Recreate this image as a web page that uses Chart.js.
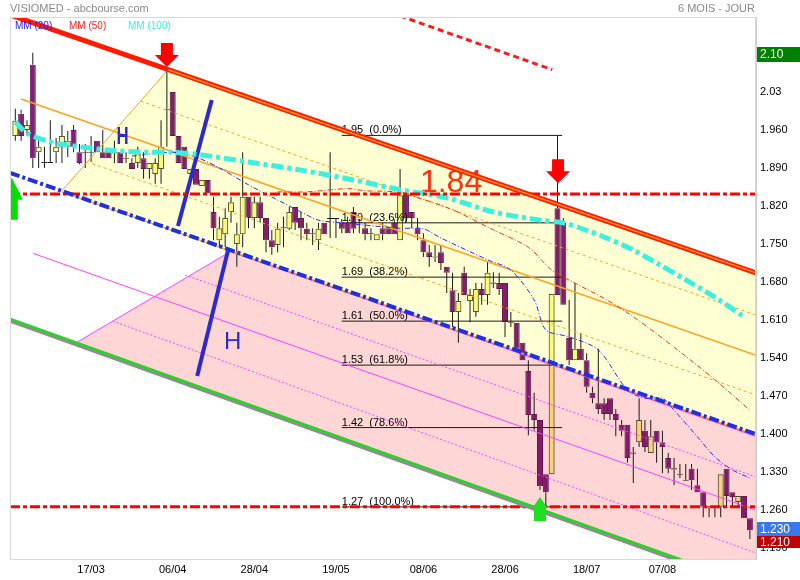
<!DOCTYPE html>
<html>
<head>
<meta charset="utf-8">
<script src="https://cdn.jsdelivr.net/npm/chart.js@4.4.1/dist/chart.umd.min.js"></script>
<style>
  html, body { margin: 0; padding: 0; background: #fff; }
  canvas { display: block; }
</style>
</head>
<body>
<canvas id="chart" width="800" height="580"></canvas>
<script>
// x axis: one slot per trading day, labels on a few of them
const dateLabels = ['17/03', '06/04', '28/04', '19/05', '08/06', '28/06', '18/07', '07/08'];
const dateIndex = [13, 27, 41, 55, 70, 84, 98, 111];
const yTicks = [1.19, 1.26, 1.33, 1.40, 1.47, 1.54, 1.61, 1.68, 1.75, 1.82, 1.89, 1.96, 2.03];
const yTickLabels = ['1.190', '1.260', '1.330', '1.400', '1.470', '1.540', '1.610', '1.680', '1.750', '1.820', '1.890', '1.960', '2.03'];

// daily candles
const open = [
  1.949,1.990,1.960,2.080,1.919,1.899,1.901,1.919,1.929,1.929,
  1.960,1.919,1.920,1.918,1.940,1.919,1.919,1.920,1.919,1.909,
  1.899,1.899,1.908,1.888,1.879,1.888,1.997,2.030,1.949,1.929,
  1.879,1.888,1.857,1.868,1.809,1.757,1.768,1.809,1.750,1.768,
  1.837,1.798,1.827,1.798,1.757,1.748,1.779,1.778,1.818,1.798,
  1.778,1.770,1.757,1.789,1.796,1.798,1.789,1.789,1.809,1.790,
  1.779,1.768,1.757,1.779,1.779,1.789,1.757,1.844,1.809,1.779,
  1.757,1.735,1.727,1.735,1.708,1.665,1.625,1.697,1.645,1.625,
  1.667,1.656,1.679,1.678,1.678,1.607,1.605,1.568,1.516,1.437,
  1.426,1.326,1.326,1.816,1.789,1.577,1.536,1.557,1.536,1.476,
  1.457,1.457,1.466,1.437,1.417,1.417,1.366,1.385,1.406,1.365,
  1.406,1.385,1.356,1.337,1.327,1.316,1.336,1.306,1.293,1.267,
  1.267,1.266,1.336,1.293,1.275,1.286,1.245];
const high = [
  1.999,1.997,1.978,2.102,1.943,1.929,1.978,1.945,1.969,1.958,
  1.969,1.934,1.934,1.949,1.940,1.960,1.919,1.940,1.919,1.919,
  1.908,1.929,1.919,1.899,1.908,1.978,2.071,2.030,1.949,1.929,
  1.888,1.888,1.868,1.868,1.837,1.800,1.816,1.837,1.789,1.919,
  1.837,1.837,1.837,1.798,1.776,1.789,1.800,1.818,1.818,1.809,
  1.789,1.779,1.789,1.789,1.919,1.798,1.796,1.800,1.818,1.796,
  1.789,1.779,1.768,1.789,1.779,1.796,1.888,1.844,1.809,1.798,
  1.770,1.748,1.748,1.748,1.708,1.697,1.660,1.708,1.667,1.678,
  1.678,1.717,1.698,1.697,1.678,1.625,1.605,1.568,1.536,1.476,
  1.426,1.326,1.658,1.950,1.798,1.647,1.678,1.586,1.549,1.487,
  1.557,1.466,1.466,1.446,1.426,1.417,1.376,1.466,1.426,1.426,
  1.406,1.406,1.365,1.356,1.345,1.345,1.345,1.336,1.293,1.267,
  1.267,1.326,1.336,1.293,1.286,1.286,1.245];
const low = [
  1.940,1.940,1.951,1.890,1.890,1.890,1.899,1.899,1.899,1.910,
  1.919,1.897,1.890,1.901,1.919,1.908,1.908,1.899,1.899,1.899,
  1.888,1.890,1.870,1.870,1.861,1.861,1.929,1.949,1.899,1.888,
  1.879,1.859,1.857,1.843,1.757,1.744,1.744,1.789,1.708,1.744,
  1.779,1.779,1.789,1.735,1.730,1.735,1.744,1.776,1.776,1.757,
  1.757,1.748,1.739,1.768,1.761,1.761,1.770,1.770,1.770,1.770,
  1.757,1.757,1.757,1.757,1.768,1.768,1.757,1.789,1.779,1.757,
  1.726,1.708,1.717,1.702,1.660,1.597,1.568,1.656,1.606,1.616,
  1.638,1.638,1.669,1.656,1.579,1.597,1.557,1.536,1.398,1.407,
  1.297,1.266,1.326,1.656,1.638,1.527,1.536,1.536,1.476,1.457,
  1.437,1.426,1.426,1.396,1.396,1.347,1.310,1.376,1.367,1.365,
  1.347,1.328,1.328,1.306,1.319,1.314,1.297,1.293,1.247,1.247,
  1.247,1.247,1.266,1.266,1.266,1.245,1.207];
const close = [
  1.977,1.949,1.969,1.908,1.929,1.901,1.899,1.929,1.949,1.940,
  1.929,1.899,1.918,1.920,1.919,1.908,1.908,1.918,1.899,1.907,
  1.888,1.917,1.888,1.899,1.899,1.929,1.999,1.949,1.899,1.888,
  1.888,1.859,1.868,1.843,1.779,1.779,1.798,1.827,1.768,1.837,
  1.798,1.827,1.798,1.757,1.744,1.778,1.781,1.809,1.789,1.779,
  1.768,1.768,1.778,1.768,1.798,1.796,1.778,1.770,1.778,1.788,
  1.768,1.770,1.768,1.768,1.768,1.768,1.840,1.798,1.798,1.768,
  1.735,1.726,1.725,1.715,1.697,1.625,1.645,1.656,1.656,1.667,
  1.656,1.697,1.677,1.667,1.606,1.605,1.557,1.536,1.435,1.426,
  1.304,1.293,1.658,1.656,1.638,1.536,1.557,1.536,1.487,1.466,
  1.446,1.437,1.437,1.426,1.406,1.356,1.364,1.426,1.376,1.396,
  1.385,1.376,1.336,1.335,1.325,1.314,1.315,1.293,1.266,1.265,
  1.265,1.326,1.286,1.284,1.286,1.245,1.223];

// moving averages (day index / value)
const mm20Day = [20,27,31,35,40,45,49,52,56,66,70,73,81,85,89,91,95,100,105,108,111,113,117,120,123,126];
const mm20 = [1.912,1.919,1.910,1.890,1.859,1.831,1.809,1.794,1.789,1.779,1.778,1.761,1.721,1.702,1.647,1.592,1.579,1.555,1.481,1.466,1.466,1.444,1.395,1.358,1.334,1.319];
const mm50Day = [45,50,57,60,65,70,75,82,88,92,96,101,106,113,120,126];
const mm50 = [1.846,1.846,1.852,1.848,1.846,1.832,1.813,1.776,1.744,1.702,1.678,1.650,1.616,1.560,1.500,1.444];
const mm100Day = [0,2,6,9,16,22,27,32,40,49,58,66,74,82,90,94,97,101,106,110,115,120,125];
const mm100 = [1.975,1.954,1.938,1.932,1.923,1.919,1.919,1.914,1.901,1.886,1.868,1.850,1.835,1.809,1.794,1.789,1.779,1.763,1.739,1.715,1.684,1.652,1.616];

// drawn tools: end points as [day, price]
const channelTop = [[-0.91, 2.172], [127.05, 1.697]];
const channelTopFromPeak = [[26.2, 2.071], [127.05, 1.697]];
const channelMid = [[-0.91, 1.881], [127.05, 1.400]];
const channelLow = [[-0.91, 1.610], [127.05, 1.117]];
const forkEdge = [[8.0, 1.848], [26.2, 2.071]];
const forkMedian = [[1.0, 2.017], [127.05, 1.545]];
const forkUpper = [[21.5, 2.013], [127.05, 1.619]];
const forkLower = [[13.2, 1.898], [127.05, 1.472]];
const forkBase = [[8.0, 1.846], [127.05, 1.398]];
const pinkEdge = [[10.25, 1.567], [37.2, 1.738]];
const pinkTop = [[37.2, 1.735], [127.05, 1.396]];
const pinkMedian = [[3.0, 1.733], [127.05, 1.260]];
const pinkUpper = [[29.1, 1.693], [127.05, 1.321]];
const pinkLower = [[16.7, 1.608], [127.05, 1.181]];
const redDotted = [[66.0, 2.170], [92.1, 2.071]];
const resistance = [[-0.91, 1.842], [127.05, 1.842]];
const support = [[-0.91, 1.266], [127.05, 1.266]];
const strokeA = [[27.9, 1.783], [33.7, 2.015]];
const strokeB = [[31.2, 1.507], [36.5, 1.739]];
const yellowZone = [[8.0, 1.848], [26.2, 2.071], [127.05, 1.697], [127.05, 1.400]];
const pinkZone = [[10.25, 1.567], [37.2, 1.738], [127.05, 1.400], [127.05, 1.117]];

// fibonacci retracement 1.95 -> 1.266
const fibLevels = [1.95, 1.789, 1.689, 1.608, 1.527, 1.412, 1.266];
const fibLabels = ['1.95  (0.0%)', '1.79  (23.6%)', '1.69  (38.2%)', '1.61  (50.0%)', '1.53  (61.8%)', '1.42  (78.6%)', '1.27  (100.0%)'];
const fibStart = 56.0, fibEnd = 93.8;

// arrows: tip position
const arrowDay = [26.0, 93.1, 90.0, -0.6];
const arrowPrice = [2.076, 1.862, 1.284, 1.872];
const arrowDir = ['down', 'down', 'up', 'up'];

const noteText = ['H', 'H', '1.84'];
const noteDay = [18.4, 37.3, 69.4];
const noteY = [1.946, 1.568, 1.846];

const lastQuote = 1.230, lastLow = 1.210, topQuote = 2.10;

const pts = arr => arr.map(p => ({x: p[0], y: p[1]}));
const days = open.map((_, i) => i);

function seg(points, color, width, dash, order) {
  return { type: 'line', data: pts(points), borderColor: color, borderWidth: width, borderDash: dash || [],
    pointRadius: 0, fill: false, tension: 0, order: order, clip: 0 };
}
function avg(dx, vals, color, width, dash) {
  return { type: 'line', data: dx.map((d, i) => ({x: d, y: vals[i]})), borderColor: color, borderWidth: width,
    borderDash: dash, pointRadius: 0, fill: false, tension: 0.3, order: 6, clip: 0 };
}
function wick(data) {
  return { type: 'bar', data, backgroundColor: '#1a1a1a', inflateAmount: 0, grouped: false,
    barThickness: 1, maxBarThickness: 1, barPercentage: 1, categoryPercentage: 1, order: 25 };
}

const fibData = [];
fibLevels.forEach(v => { fibData.push({x: fibStart, y: v}, {x: fibEnd, y: v}, {x: fibEnd, y: null}); });

const isDoji = i => Math.abs(close[i] - open[i]) < 0.003;
const upCol = '#fafa90', downCol = '#80207a';

const datasets = [
  { type: 'line', data: pts(yellowZone), backgroundColor: '#ffffd4', borderWidth: 0, pointRadius: 0, fill: 'shape', order: 30 },
  { type: 'line', data: pts(pinkZone), backgroundColor: '#ffd6d6', borderWidth: 0, pointRadius: 0, fill: 'shape', order: 30 },
  // wicks above and below the body, so the body hides nothing when multiplied
  wick(days.map(i => ({x: i, y: [Math.max(open[i], close[i]), high[i]]}))),
  wick(days.map(i => ({x: i, y: [low[i], Math.min(open[i], close[i])]}))),
  { type: 'bar', data: days.map(i => ({x: i, y: [open[i], close[i]]})),
    backgroundColor: days.map(i => close[i] >= open[i] ? upCol : downCol),
    borderColor: days.map(i => isDoji(i) ? '#1a1a1a' : (close[i] >= open[i] ? '#55553a' : '#6a1464')),
    borderWidth: 1, borderSkipped: false, inflateAmount: 0, grouped: false, barThickness: 6, maxBarThickness: 6,
    barPercentage: 1, categoryPercentage: 1, order: 24 },
  seg(forkEdge, '#ffa020', 1, [], 8),
  seg(forkMedian, '#ffa020', 1.5, [], 8),
  seg(forkUpper, '#ffa020', 1, [3, 3], 8),
  seg(forkLower, '#ffa020', 1, [3, 3], 8),
  seg(forkBase, '#ffa020', 1.5, [], 8),
  seg(pinkEdge, '#ff40ff', 1, [], 8),
  seg(pinkTop, '#ff40ff', 1.5, [], 8),
  seg(pinkMedian, '#ff40ff', 1, [], 8),
  seg(pinkUpper, '#ff40ff', 1, [2, 2], 8),
  seg(pinkLower, '#ff40ff', 1, [2, 2], 8),
  seg(redDotted, '#ff1a1a', 3, [6, 4], 8),
  { type: 'line', data: fibData, borderColor: '#1a1a1a', borderWidth: 1, pointRadius: 0, fill: false, spanGaps: false, order: 8, clip: 0 },
  seg(strokeA, '#2a2ad0', 4, [], 7),
  seg(strokeB, '#2a2ad0', 4, [], 7),
  avg(mm100Day, mm100, '#3cf0e0', 5, [12, 4, 4, 4]),
  avg(mm50Day, mm50, '#ff2a10', 1, [5, 2, 1, 2]),
  avg(mm20Day, mm20, '#2a2aff', 1, [5, 2, 1, 2]),
  seg(resistance, '#ff0000', 3, [10, 3, 4, 3], 5),
  seg(support, '#ff0000', 3, [10, 3, 4, 3], 5),
  seg(channelLow, '#33cc33', 5, [], 4),
  seg([[channelLow[0][0], channelLow[0][1] - 0.003], [channelLow[1][0], channelLow[1][1] - 0.003]], '#ff40ff', 1, [], 3.5),
  seg(channelMid, '#2030e0', 4, [10, 3, 3, 3], 3),
  seg(channelTop, '#ff1a00', 5, [], 2),
  seg(channelTopFromPeak, '#ff9020', 1.5, [], 1)
];

function arrow(ctx, x, y, dir, hw, hh, sw, sh, color) {
  const s = dir === 'down' ? -1 : 1;
  ctx.fillStyle = color;
  ctx.beginPath();
  ctx.moveTo(x, y);
  ctx.lineTo(x + hw / 2, y + s * hh);
  ctx.lineTo(x + sw / 2, y + s * hh);
  ctx.lineTo(x + sw / 2, y + s * (hh + sh));
  ctx.lineTo(x - sw / 2, y + s * (hh + sh));
  ctx.lineTo(x - sw / 2, y + s * hh);
  ctx.lineTo(x - hw / 2, y + s * hh);
  ctx.closePath();
  ctx.fill();
}

const decor = {
  id: 'decor',
  beforeDatasetDraw(chart, args) {
    // candles are multiplied into the zone colours, like the original
    if (args.meta.type === 'bar') { chart.ctx.save(); chart.ctx.globalCompositeOperation = 'multiply'; }
  },
  afterDatasetDraw(chart, args) {
    const ctx = chart.ctx, xs = chart.scales.x, ys = chart.scales.y;
    if (args.meta.type === 'bar') ctx.restore();
    if (args.index !== 0) return;
    ctx.save();
    ctx.fillStyle = '#000';
    ctx.font = '11px Arial, "Liberation Sans"';
    ctx.textAlign = 'left';
    ctx.textBaseline = 'alphabetic';
    fibLevels.forEach((v, i) => ctx.fillText(fibLabels[i], xs.getPixelForValue(fibStart), ys.getPixelForValue(v) - 2));
    ctx.fillStyle = '#ff3311';
    ctx.font = '32px Arial, "Liberation Sans"';
    ctx.fillText(noteText[2], xs.getPixelForValue(noteDay[2]), ys.getPixelForValue(noteY[2]));
    ctx.restore();
  },
  afterDatasetsDraw(chart) {
    const ctx = chart.ctx, xs = chart.scales.x, ys = chart.scales.y, a = chart.chartArea;
    ctx.save();
    ctx.beginPath(); ctx.rect(a.left, a.top, a.right - a.left, a.bottom - a.top); ctx.clip();
    ctx.fillStyle = '#2a2ad0';
    ctx.textAlign = 'center';
    ctx.textBaseline = 'middle';
    ctx.save();
    ctx.translate(xs.getPixelForValue(noteDay[0]), ys.getPixelForValue(noteY[0]));
    ctx.scale(0.7, 1);
    ctx.font = 'bold 24px Arial, "Liberation Sans"';
    ctx.fillText(noteText[0], 0, 0);
    ctx.restore();
    ctx.font = '24px Arial, "Liberation Sans"';
    ctx.fillText(noteText[1], xs.getPixelForValue(noteDay[1]), ys.getPixelForValue(noteY[1]));
    arrowDay.forEach((d, i) => {
      const x = xs.getPixelForValue(d), y = ys.getPixelForValue(arrowPrice[i]);
      if (arrowDir[i] === 'down') arrow(ctx, x, y, 'down', 24, 12, 12, 12, '#ff0000');
      else if (i === 2) arrow(ctx, x, y, 'up', 15, 11, 12, 13, '#22dd22');
      else arrow(ctx, x, y, 'up', 22, 22, 12, 20, '#00e000');
    });
    ctx.restore();
  },
  afterDraw(chart) {
    const ctx = chart.ctx, ys = chart.scales.y, a = chart.chartArea;
    ctx.save();
    ctx.strokeStyle = '#d8d8d8';
    ctx.lineWidth = 1;
    ctx.strokeRect(a.left + 0.5, a.top + 0.5, a.right - a.left - 1, a.bottom - a.top);
    ctx.font = '11px Arial, "Liberation Sans"';
    ctx.textBaseline = 'middle';
    ctx.fillStyle = '#8a8a8a';
    ctx.textAlign = 'left';
    ctx.fillText('VISIOMED - abcbourse.com', 10, 9);
    ctx.textAlign = 'right';
    ctx.fillText('6 MOIS - JOUR', 755, 9);
    ctx.textAlign = 'left';
    ctx.font = '10px Arial, "Liberation Sans"';
    ctx.fillStyle = '#2222ee'; ctx.fillText('MM (20)', 15, 26);
    ctx.fillStyle = '#ff2222'; ctx.fillText('MM (50)', 69, 26);
    ctx.fillStyle = '#33eeee'; ctx.fillText('MM (100)', 128, 26);
    const boxes = [
      [Math.round(ys.getPixelForValue(topQuote)) - 7, 15, '#008000', topQuote.toFixed(2)],
      [Math.round(ys.getPixelForValue(lastQuote)) - 4, 14, '#3a78f0', lastQuote.toFixed(3)],
      [Math.round(ys.getPixelForValue(lastQuote)) + 10, 12, '#c00000', lastLow.toFixed(3)]
    ];
    ctx.font = '12px Arial, "Liberation Sans"';
    boxes.forEach(b => {
      ctx.fillStyle = b[2];
      ctx.fillRect(757, b[0], 43, b[1]);
      ctx.fillStyle = '#fff';
      ctx.fillText(b[3], 760, b[0] + b[1] / 2 + 0.5);
    });
    ctx.restore();
  }
};

new Chart(document.getElementById('chart'), {
  type: 'line',
  data: { datasets },
  options: {
    responsive: false,
    animation: false,
    events: [],
    layout: { padding: { left: 10, top: 17, right: 0, bottom: 0 } },
    plugins: { legend: { display: false }, tooltip: { enabled: false } },
    scales: {
      x: {
        type: 'linear', min: -0.91, max: 127.05, offset: false,
        grid: { display: false, drawTicks: false },
        border: { display: true, color: '#d8d8d8' },
        afterBuildTicks: s => { s.ticks = dateIndex.map(v => ({ value: v })); },
        afterFit: s => { s.height = 21; },
        ticks: { autoSkip: false, maxRotation: 0, padding: 4, color: '#000',
          font: { family: 'Arial, "Liberation Sans"', size: 11 },
          callback: (v, i) => dateLabels[i] }
      },
      y: {
        type: 'linear', position: 'right', min: 1.170, max: 2.168,
        grid: { display: false, drawTicks: false },
        border: { display: true, color: '#cccccc' },
        afterBuildTicks: s => { s.ticks = yTicks.map(v => ({ value: v })); },
        afterFit: s => { s.width = 44; },
        ticks: { padding: 4, color: '#000',
          font: { family: 'Arial, "Liberation Sans"', size: 11 },
          callback: (v, i) => yTickLabels[i] }
      }
    }
  },
  plugins: [decor]
});
</script>
</body>
</html>
